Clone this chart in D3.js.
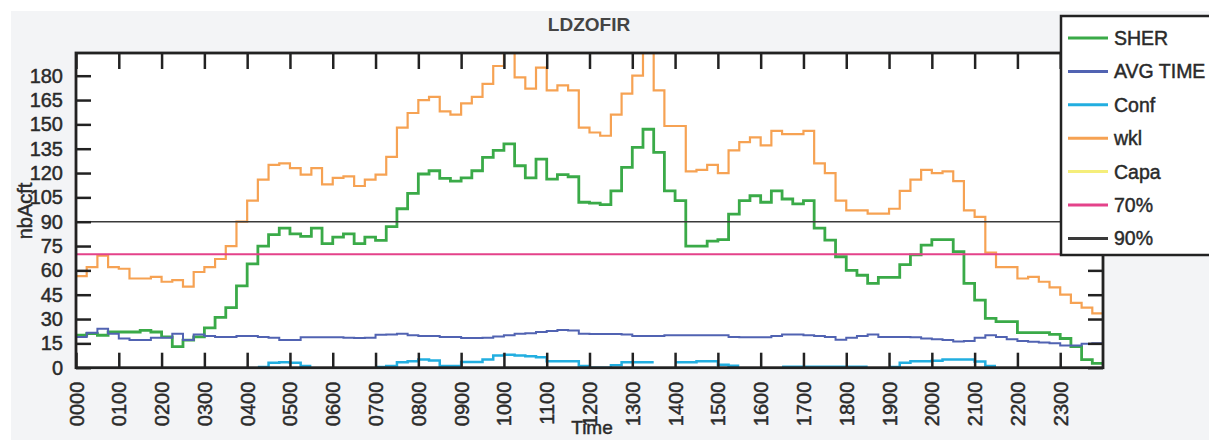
<!DOCTYPE html>
<html><head><meta charset="utf-8">
<script src="https://cdn.jsdelivr.net/npm/d3@7"></script>
<style>
html,body{margin:0;padding:0;background:#fff;overflow:hidden}
svg{display:block;font-family:"Liberation Sans",Arial,sans-serif}
.lbl{fill:#2a2a2a;stroke:#2a2a2a;stroke-width:0.45px}
</style></head><body>
<svg id="c" width="1209" height="440"></svg>
<script>
// ---------- data (15-minute steps, 0000 -> 2345) ----------
const hourLabels = ["0000","0100","0200","0300","0400","0500","0600","0700","0800","0900","1000","1100",
  "1200","1300","1400","1500","1600","1700","1800","1900","2000","2100","2200","2300"];
const yTicks = [0,15,30,45,60,75,90,105,120,135,150,165,180];
const seriesNames = ["SHER","AVG TIME","Conf","wkl","Capa","70%","90%"];

const sher = [20,21,20,22,22,22,23,22,19,13,17,19,24.5,31,37,50.5,
  64,75,82,86,82.5,81,86,76.5,80.5,82.5,76.5,80.5,78.5,87,98,107.5,
  119.4,121.4,116.7,115,117,121.4,129.6,134,138,124.5,117,128.6,116.3,119,117.7,102,
  101.5,100.5,109,123.5,135.8,147,132.7,109,103,75,75,78,79,94.7,103,106,
  102,109,104,101,103,86,78.7,68.4,60,57,52,55.7,55.7,63.5,69.5,75.6,
  79,79,71.5,52,41.7,30.4,28.4,28.4,21.6,21.6,21.6,20.5,18,13,5,2.7];

const avgTime = [19,21.5,24,21,18,17,17,18.5,18.5,21,17,20.5,19.5,19,19,19.5,
  19.5,19,18.5,17,17,18.7,18.7,18.7,18.7,18.5,18.3,18.5,20.3,20.5,21,20,
  19.5,19.5,19,19,18.3,18.3,18.5,19.2,20,21,21.3,22,22.7,23.2,23,21,
  20.8,20.8,20.8,20.5,19.5,19.6,19.6,20,20,20,20,20,20,19,18.7,18.7,
  18.7,19.5,20.5,20.5,20,19.5,19,17.2,18.5,19.5,20.5,19,19,19,18.7,18,
  17.5,17,16.2,16.5,18.5,20,19,17.5,16.5,16,15.5,15,13.7,13.7,14.8,15];

const conf = [null,null,null,null,null,null,null,null,null,null,null,null,null,null,null,null,
  null,0.5,3,3.3,3,1,null,null,null,null,null,null,0.5,1,3.3,4,
  5,4.5,1,1,3.5,3.5,5,7.5,8,7.5,7,6.5,4,4,4,1,
  0,0,1.5,3.3,3.3,3.3,null,null,3.3,3.3,3.9,3.9,1.8,1.2,null,null,
  null,null,0.6,0.6,0.6,0.6,0.6,0.6,0.6,0.6,null,null,0.5,3,4,4,
  4.3,5,5,5,3.8,1,null,null,null,null,null,null,null,null,null,null];

const wkl = [56.5,62,69,62,61,55,55,56,53,54,50,59,62,67,75,90,
  103,116,125,126,123,119,123,113,117,118,112,116,119,130,148,157,
  165,167,158,156,163,167,175,186,198,179,172,185,171,174,171,148,
  145,143,156,169,180,198,171,149,149,121,122,125,120,134,139,142,
  137,146,144,144,146,126,120,103,97,97,95,95,98,109,116,122,
  120,121,115,97,93,71,62,62,55,56,53,49.5,45,40,37,33.5];

const capa = [];          // no visible Capa trace in the picture
const level70 = 70;
const level90 = 90;

// ---------- layout ----------
const svg = d3.select("#c");
const L = 76, R = 1103, T = 53, B = 367.7;
const x = d3.scaleLinear().domain([0, 1440]).range([L, R]);
const y = d3.scaleLinear().domain([0, 194]).range([B, T]);

const colors = {"SHER":"#3aaa48","AVG TIME":"#5163b2","Conf":"#22aee0","wkl":"#f6a253",
  "Capa":"#f5ee7a","70%":"#e4428a","90%":"#3a3a3a"};

// background
svg.append("rect").attr("x",0).attr("y",0).attr("width",1209).attr("height",440).attr("fill","#ffffff");
svg.append("rect").attr("x",11).attr("y",11).attr("width",1198).attr("height",429).attr("fill","#f3f4f6");
svg.append("rect").attr("x",L).attr("y",T).attr("width",R-L).attr("height",B-T).attr("fill","#ffffff");

svg.append("defs").append("clipPath").attr("id","pc")
  .append("rect").attr("x",L).attr("y",T).attr("width",R-L).attr("height",B-T);

// step expansion: each value spans its 15-minute bin
function stepPoints(vals){
  const pts = [];
  vals.forEach((v,i)=>{
    if (v == null) { pts.push(null); return; }
    pts.push([i*15, v]); pts.push([(i+1)*15, v]);
  });
  return pts;
}
const line = d3.line().defined(d=>d!=null).x(d=>x(d[0])).y(d=>y(d[1]));
const g = svg.append("g").attr("clip-path","url(#pc)");

function drawSeries(vals, color, w){
  g.append("path").attr("d", line(stepPoints(vals))).attr("fill","none")
   .attr("stroke", color).attr("stroke-width", w).attr("stroke-linejoin","miter");
}
drawSeries(sher, colors["SHER"], 2.8);
drawSeries(avgTime, colors["AVG TIME"], 2);
drawSeries(conf, colors["Conf"], 2.5);
drawSeries(wkl, colors["wkl"], 2.2);
if (capa.length) drawSeries(capa, colors["Capa"], 2);
g.append("line").attr("x1",x(0)).attr("x2",x(1440)).attr("y1",y(level70)).attr("y2",y(level70))
  .attr("stroke",colors["70%"]).attr("stroke-width",2);
g.append("line").attr("x1",x(0)).attr("x2",x(1440)).attr("y1",y(level90)).attr("y2",y(level90))
  .attr("stroke",colors["90%"]).attr("stroke-width",1.5);

// axes
const hourTicks = hourLabels.map((_,i)=>i*60);
const axCol = "#222";
const axB = svg.append("g").attr("transform",`translate(0,${B})`)
  .call(d3.axisBottom(x).tickValues(hourTicks).tickFormat((d,i)=>hourLabels[i]).tickSizeInner(-15).tickSizeOuter(0).tickPadding(0));
axB.selectAll("text").remove();
axB.selectAll(".tick").append("text").attr("class","lbl")
  .attr("transform","rotate(-90)").attr("x",-14).attr("y",0).attr("dy","0.35em")
  .attr("text-anchor","end").style("font-size","20px")
  .text((d,i)=>hourLabels[i]);
const axT = svg.append("g").attr("transform",`translate(0,${T})`)
  .call(d3.axisTop(x).tickValues(hourTicks).tickFormat("").tickSizeInner(-16).tickSizeOuter(0));
const axL = svg.append("g").attr("transform",`translate(${L},0)`)
  .call(d3.axisLeft(y).tickValues(yTicks).tickSizeInner(-15).tickSizeOuter(0).tickPadding(13));
axL.selectAll("text").attr("class","lbl").attr("fill",null).style("font-size","20px");
const axR = svg.append("g").attr("transform",`translate(${R},0)`)
  .call(d3.axisRight(y).tickValues(yTicks).tickFormat("").tickSizeInner(-15).tickSizeOuter(0));
[axB,axT,axL,axR].forEach(a=>{
  a.select(".domain").remove();
  a.selectAll(".tick line").attr("stroke",axCol).attr("stroke-width",2.5);
});
svg.append("rect").attr("x",L).attr("y",T).attr("width",R-L).attr("height",B-T)
  .attr("fill","none").attr("stroke",axCol).attr("stroke-width",2.8);

// titles
svg.append("text").attr("x",589).attr("y",31).attr("text-anchor","middle")
  .attr("font-weight","bold").attr("fill","#444").style("font-size","19px").text("LDZOFIR");
svg.append("text").attr("class","lbl").attr("transform","translate(32,211) rotate(-90)").attr("text-anchor","middle")
  .style("font-size","20px").text("nbAcft");
svg.append("text").attr("class","lbl").attr("x",592).attr("y",434).attr("text-anchor","middle")
  .style("font-size","19px").text("Time");

// legend
const lg = svg.append("g");
lg.append("rect").attr("x",1061).attr("y",16).attr("width",160).attr("height",239)
  .attr("fill","#fff").attr("stroke",axCol).attr("stroke-width",2.5);
seriesNames.forEach((n,i)=>{
  const yy = 38 + i*33.4;
  lg.append("line").attr("x1",1068).attr("x2",1108).attr("y1",yy).attr("y2",yy)
    .attr("stroke",colors[n]).attr("stroke-width",3);
  lg.append("text").attr("class","lbl").attr("x",1114).attr("y",yy).attr("dy","0.36em")
    .style("font-size","19.5px").text(n);
});
</script></body></html>
